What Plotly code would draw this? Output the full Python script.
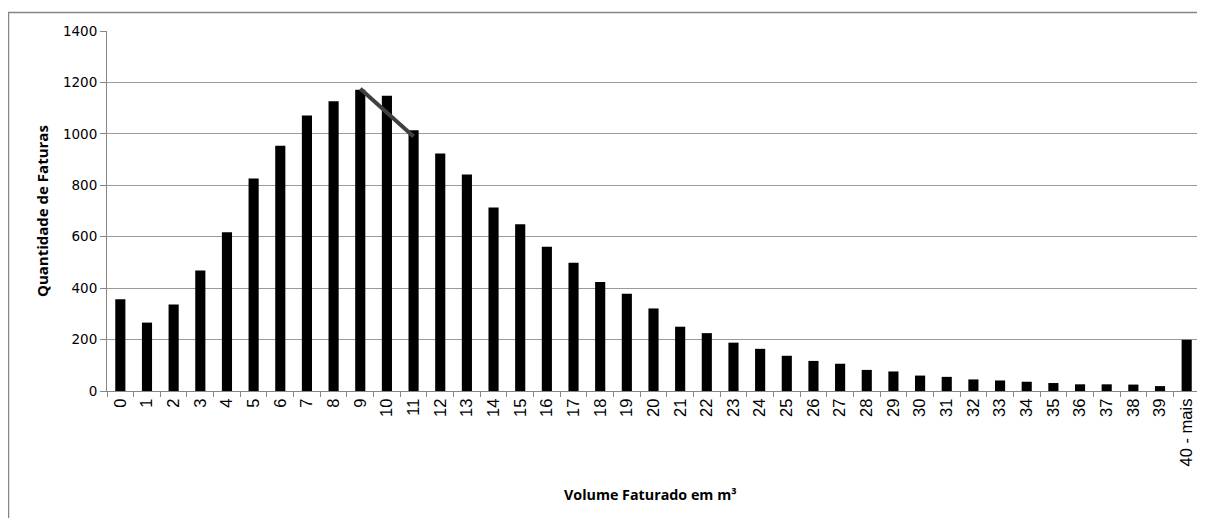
import plotly.graph_objects as go

# volume faturado (m3) e quantidade de faturas
categorias = [str(i) for i in range(40)] + ["40 - mais"]
faturas = [357, 266, 336, 469, 617, 826, 954, 1071, 1127, 1172,
           1148, 1014, 924, 842, 714, 648, 561, 499, 424, 378,
           321, 250, 225, 188, 164, 137, 117, 106, 82, 76,
           60, 55, 45, 41, 36, 31, 26, 26, 25, 19, 199]

# linha de tendencia sobre o pico
tend_x = ["9", "11"]
tend_y = [1175, 990]

# a pagina tem 8px de margem no body
W, H = 1197, 510
L, R, T, B = 99, 5, 23, 127
pw, ph = W - L - R, H - T - B

fig = go.Figure()
fig.add_trace(go.Bar(x=categorias, y=faturas, marker_color="black",
                     marker_line_width=0, width=0.38, showlegend=False))
fig.add_trace(go.Scatter(x=tend_x, y=tend_y, mode="lines",
                         line=dict(color="#404040", width=4), showlegend=False))

fig.update_layout(
    width=W, height=H,
    margin=dict(l=L, r=R, t=T, b=B),
    plot_bgcolor="white", paper_bgcolor="white",
    xaxis=dict(
        type="category", tickangle=-90, tickson="boundaries",
        ticks="outside", ticklen=5, tickcolor="#868686",
        showline=True, linecolor="#868686", linewidth=1,
        showgrid=False,
        tickfont=dict(family="Liberation Sans, Arial", size=16.5, color="black"),
    ),
    yaxis=dict(
        range=[0, 1400], dtick=200,
        ticks="outside", ticklen=6, tickcolor="#868686",
        showline=True, linecolor="#868686", linewidth=1,
        gridcolor="#9a9a9a", gridwidth=1, zeroline=False,
        tickfont=dict(family="DejaVu Sans, Verdana", size=13.5, color="black"),
    ),
    annotations=[
        dict(text="<b>Volume Faturado em m³</b>", xref="paper", yref="paper",
             x=(642 - L) / pw, y=-(487 - (H - B)) / ph,
             xanchor="center", yanchor="middle", showarrow=False,
             font=dict(family="Open Sans, Liberation Sans", size=14.3, color="black")),
        dict(text="<b>Quantidade de Faturas</b>", xref="paper", yref="paper",
             x=(34 - L) / pw, y=0.5, textangle=-90,
             xanchor="center", yanchor="middle", showarrow=False,
             font=dict(family="Open Sans, Liberation Sans", size=15, color="black")),
    ],
)

# moldura externa do grafico (so esquerda e topo aparecem)
x0 = (0.5 - L) / pw
x1 = (W + 20 - L) / pw
y0 = -(B + 20) / ph
y1 = 1 + (T - 4.5) / ph
fig.add_shape(type="path", xref="paper", yref="paper",
              path=f"M {x0} {y0} L {x0} {y1} L {x1} {y1}",
              line=dict(color="#868686", width=1.5), layer="below")

fig.write_html("out.html")
